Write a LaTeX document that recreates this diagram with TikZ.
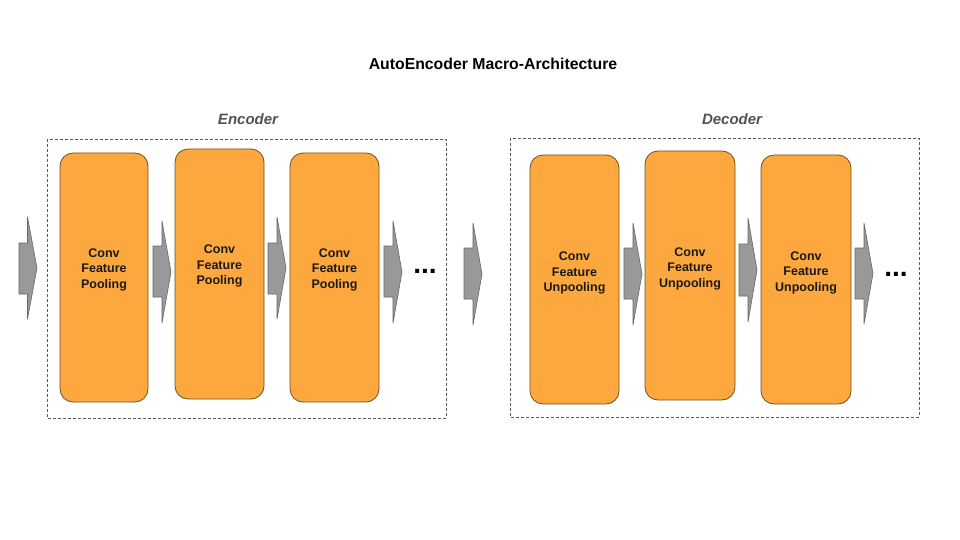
\documentclass[tikz,border=0pt]{standalone}
\usepackage{fontspec}
\setmainfont{Liberation Sans}
\begin{document}
\begin{tikzpicture}[x=1pt,y=-1pt,
  every node/.style={inner sep=0pt, outer sep=0pt},
  groupbox/.style={draw=black!65, line width=0.7pt, dash pattern=on 3pt off 2pt},
  layerbox/.style={draw=layerborder, fill=layerfill, line width=0.8pt, rounded corners=13pt},
  layertext/.style={align=center, font=\fontsize{12.5}{15.5}\selectfont\bfseries, text=black!90},
  grouptitle/.style={font=\fontsize{15}{18}\selectfont\bfseries\itshape, text=black!68},
  blkarrow/.style={draw=black!60, fill=black!40, line width=0.6pt},
  dots/.style={font=\fontsize{28}{30}\selectfont\bfseries, anchor=base}
]
\definecolor{layerfill}{HTML}{FDA83F}
\definecolor{layerborder}{HTML}{6E5025}
\useasboundingbox (0,0) rectangle (960,540);

% title
\node[font=\fontsize{15.8}{18}\selectfont\bfseries] (title) at (493,64) {AutoEncoder Macro-Architecture};

% group boxes
\draw[groupbox] (47,139) rectangle (446,418);
\draw[groupbox] (510,138) rectangle (919,417);
\node[grouptitle] (enc) at (248,119) {Encoder};
\node[grouptitle] (dec) at (732,119) {Decoder};

% encoder layers
\draw[layerbox] (60,153) rectangle (148,402);
\draw[layerbox] (175,149) rectangle (264,399);
\draw[layerbox] (290,153) rectangle (379,402);
\node[layertext] (e1) at (104,269.5) {Conv\\Feature\\Pooling};
\node[layertext] (e2) at (219.5,266) {Conv\\Feature\\Pooling};
\node[layertext] (e3) at (334.5,269.5) {Conv\\Feature\\Pooling};

% decoder layers
\draw[layerbox] (530,155) rectangle (619,404);
\draw[layerbox] (645,151) rectangle (735,400);
\draw[layerbox] (761,155) rectangle (851,404);
\node[layertext] (d1) at (574.5,273) {Conv\\Feature\\Unpooling};
\node[layertext] (d2) at (690,268.5) {Conv\\Feature\\Unpooling};
\node[layertext] (d3) at (806,272.5) {Conv\\Feature\\Unpooling};

% block arrows: shaft x0..xh, tip xt; shaft y s1..s2; head y h1..h2
\newcommand\blockarrow[7]{%
  \draw[blkarrow] (#1,#4) -- (#2,#4) -- (#2,#6) -- (#3,{(#6+#7)/2}) -- (#2,#7) -- (#2,#5) -- (#1,#5) -- cycle;}
\blockarrow{19}{27.5}{37}{243}{294}{217}{319}
\blockarrow{153}{162}{171}{246}{297}{221}{323}
\blockarrow{268}{277}{286}{243}{294}{217}{319}
\blockarrow{384}{393}{402}{246}{297}{221}{323}
\blockarrow{464}{473}{482}{248}{299}{223}{325}
\blockarrow{624}{633}{642}{248}{299}{223}{325}
\blockarrow{739}{748}{757}{244}{296}{218}{322}
\blockarrow{855}{864}{873}{248}{299}{223}{324}

% ellipses
\node[dots] (dots1) at (425,273) {...};
\node[dots] (dots2) at (896,276) {...};
\end{tikzpicture}
\end{document}
